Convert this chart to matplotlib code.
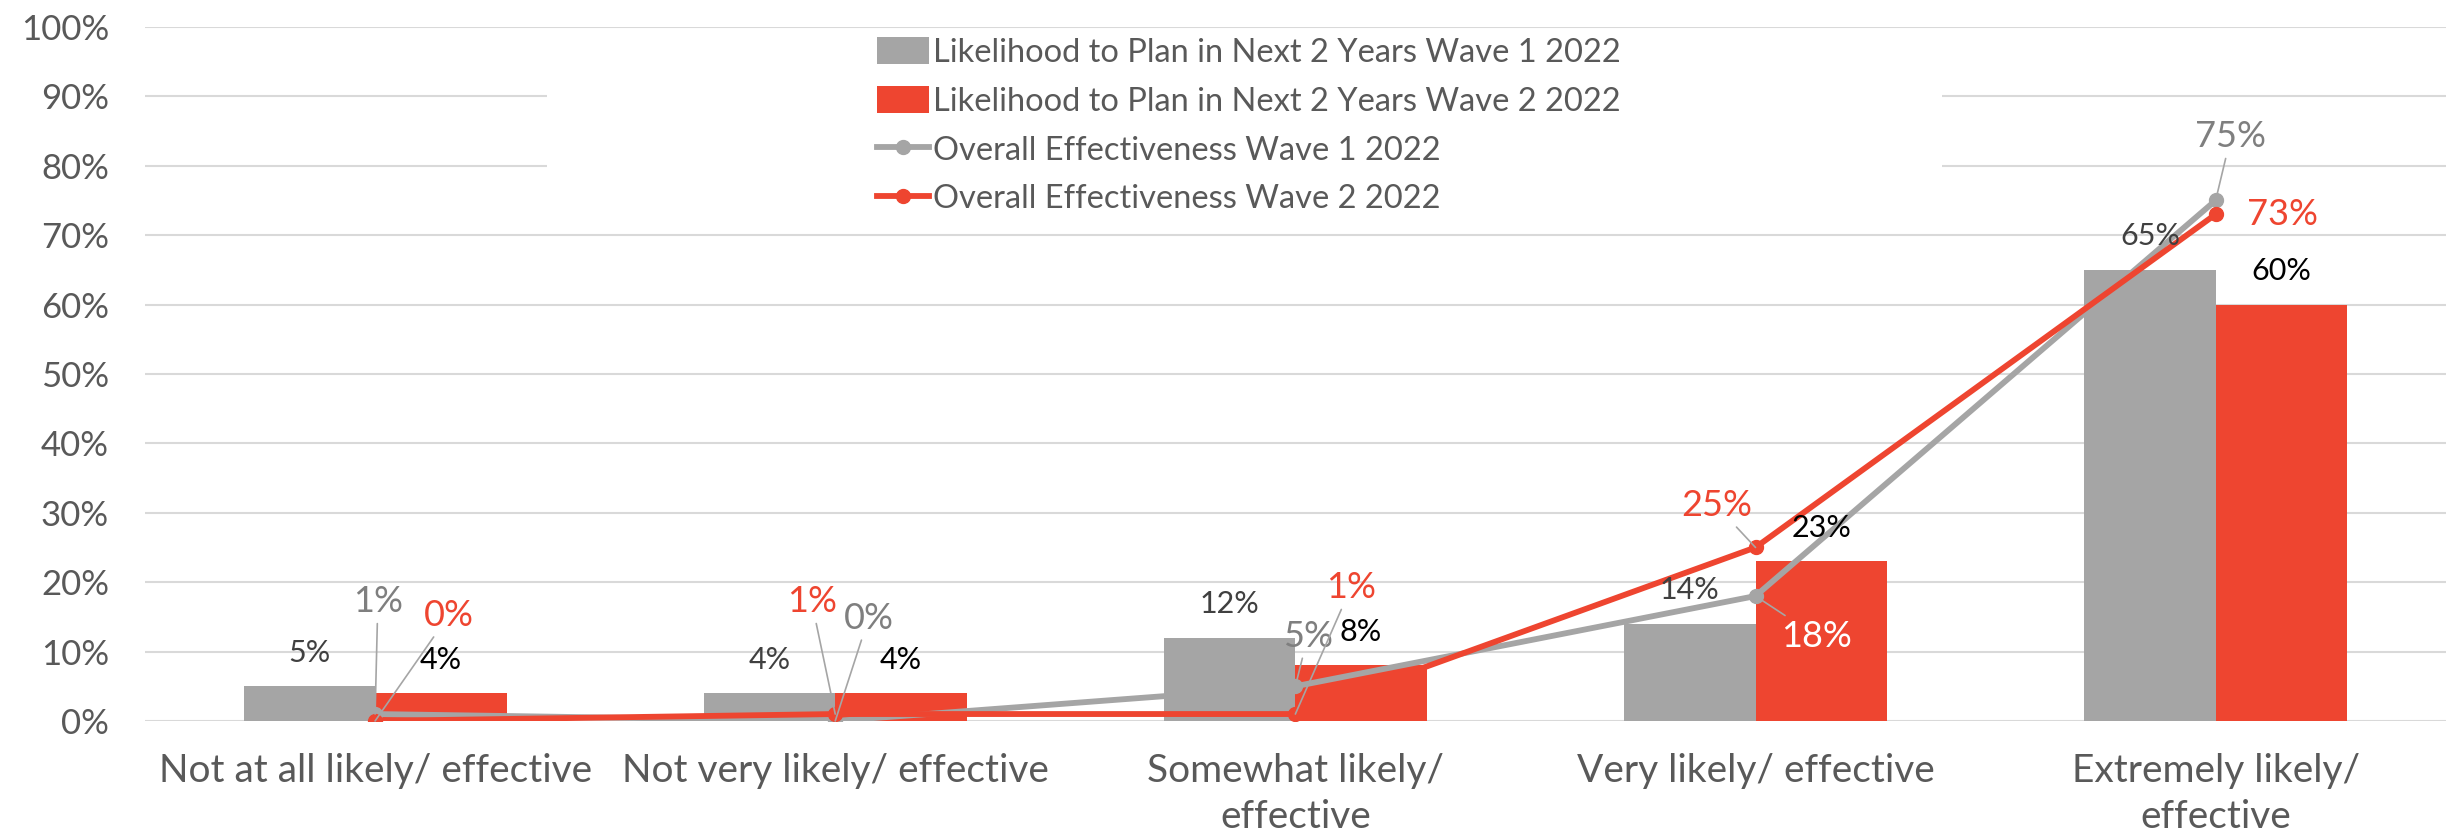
import numpy as np
import matplotlib
matplotlib.use("Agg")
import matplotlib.pyplot as plt
from matplotlib.patches import Rectangle
from matplotlib.lines import Line2D
from matplotlib.patches import Patch

plt.rcParams['font.family'] = ['Lato', 'DejaVu Sans']

# --- data ---
categories = ["Not at all likely/ effective", "Not very likely/ effective",
              "Somewhat likely/\neffective", "Very likely/ effective",
              "Extremely likely/\neffective"]
plan_w1 = [5, 4, 12, 14, 65]
plan_w2 = [4, 4, 8, 23, 60]
eff_w1 = [1, 0, 5, 18, 75]
eff_w2 = [0, 1, 1, 25, 73]
y_ticks = [0, 10, 20, 30, 40, 50, 60, 70, 80, 90, 100]

series_names = ["Likelihood to Plan in Next 2 Years Wave 1 2022",
                "Likelihood to Plan in Next 2 Years Wave 2 2022",
                "Overall Effectiveness Wave 1 2022",
                "Overall Effectiveness Wave 2 2022"]

GRAY = "#A5A5A5"
RED = "#EE4530"

# label offsets (points) for the line labels, and whether a leader line is drawn
off_w1 = [(2, 81), (24, 74), (9, 36), (44, -29), (11, 46)]
off_w2 = [(53, 76), (-17, 81), (40, 91), (-28, 30), (48, 0)]
lead_w2 = [True, True, True, True, False]

fig = plt.figure(figsize=(24.58, 8.40), dpi=100)
ax = fig.add_axes([0.059, 0.1417, 0.936, 0.8263])

x = np.arange(len(categories))
w = 0.2857
ax.bar(x - w / 2, plan_w1, w, color=GRAY, zorder=3)
ax.bar(x + w / 2, plan_w2, w, color=RED, zorder=3)
ax.plot(x, eff_w1, color=GRAY, lw=4.2, marker='o', ms=10, zorder=5)
ax.plot(x, eff_w2, color=RED, lw=4.2, marker='o', ms=10, zorder=6)

# bar labels
for i in range(len(categories)):
    ax.annotate(f"{plan_w1[i]}%", (x[i] - w / 2, plan_w1[i]), xytext=(0, 24),
                textcoords='offset points', ha='center', va='center',
                fontsize=22, color='#404040', zorder=7)
    ax.annotate(f"{plan_w2[i]}%", (x[i] + w / 2, plan_w2[i]), xytext=(0, 24),
                textcoords='offset points', ha='center', va='center',
                fontsize=22, color='black', zorder=7)

# line labels
for i in range(len(categories)):
    c1 = 'white' if i == 3 else '#7F7F7F'
    ax.annotate(f"{eff_w1[i]}%", (x[i], eff_w1[i]), xytext=off_w1[i],
                textcoords='offset points', ha='center', va='center',
                fontsize=26, color=c1, zorder=8,
                arrowprops=dict(arrowstyle='-', color=GRAY, lw=1.2,
                                shrinkA=2, shrinkB=0))
    ap = dict(arrowstyle='-', color=GRAY, lw=1.2, shrinkA=2, shrinkB=0) if lead_w2[i] else None
    ax.annotate(f"{eff_w2[i]}%", (x[i], eff_w2[i]), xytext=off_w2[i],
                textcoords='offset points', ha='center', va='center',
                fontsize=26, color=RED, zorder=8, arrowprops=ap)

ax.set_xlim(-0.5, len(categories) - 0.5)
ax.set_ylim(0, 100)
ax.set_yticks(y_ticks)
ax.set_yticklabels([f"{t}%" for t in y_ticks])
ax.set_xticks(x)
ax.set_xticklabels(categories, linespacing=1.35)
ax.tick_params(axis='y', length=0, pad=26, labelsize=25, labelcolor='#595959')
ax.tick_params(axis='x', length=0, pad=23, labelsize=28, labelcolor='#595959')
for s in ax.spines.values():
    s.set_visible(False)
ax.yaxis.grid(True, color='#D9D9D9', lw=1.5, zorder=0)
ax.set_axisbelow(True)

# legend box (white, hides grid lines behind it)
ax.add_patch(Rectangle((0.1746, 0.72), 0.6066, 0.27, transform=ax.transAxes,
                       facecolor='white', edgecolor='none', zorder=2))
handles = [Patch(facecolor=GRAY), Patch(facecolor=RED),
           Line2D([], [], color=GRAY, lw=4.2, marker='o', ms=10),
           Line2D([], [], color=RED, lw=4.2, marker='o', ms=10)]
leg = ax.legend(handles, series_names, loc='upper center',
                bbox_to_anchor=(0.508, 0.975), bbox_transform=fig.transFigure,
                frameon=False, fontsize=23.5, handlelength=1.6, handleheight=0.9,
                handletextpad=0.12, labelspacing=0.55, borderpad=0.0)
for t in leg.get_texts():
    t.set_color('#595959')

fig.savefig("out.png", dpi=100)
